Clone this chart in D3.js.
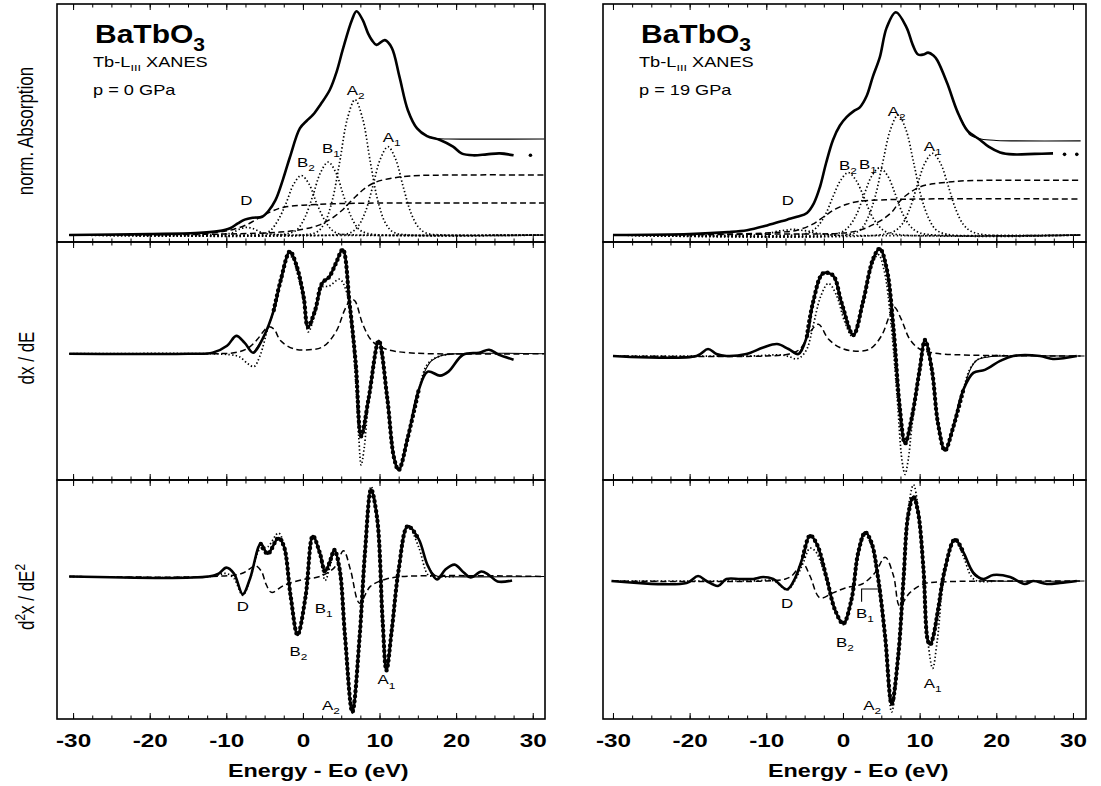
<!DOCTYPE html>
<html>
<head>
<meta charset="utf-8">
<script src="https://cdnjs.cloudflare.com/ajax/libs/d3/7.8.5/d3.min.js"></script>
<style>
body{margin:0;background:#fff;}
svg{display:block;font-family:"Liberation Sans",Arial,Helvetica,sans-serif;}
</style>
</head>
<body>
<svg id="chart" width="1101" height="786"></svg>
<script>
// tick positions (eV)
const energyTicks = [-30,-20,-10,0,10,20,30];
const minorTicks = [-30,-27.5,-25,-22.5,-20,-17.5,-15,-12.5,-10,-7.5,-5,-2.5,0,2.5,5,7.5,10,12.5,15,17.5,20,22.5,25,27.5,30];

// ---------- p = 0 GPa (left column) ----------
// norm. absorption: measured, fit, arctan steps, gaussian peaks
const absExpL = [[-30.5,0],[-20,0.01],[-14,0.02],[-11,0.04],[-9.5,0.07],[-8.5,0.12],[-7.6,0.16],[-6.5,0.18],[-5.3,0.19],[-4.5,0.25],[-3.6,0.36],[-2.6,0.58],[-1.7,0.81],[-0.4,1.11],[0.5,1.19],[1.3,1.25],[2.3,1.36],[3.5,1.51],[4.4,1.70],[5.2,1.93],[6.4,2.24],[7.0,2.33],[7.8,2.24],[8.5,2.10],[9.0,2.03],[9.6,1.98],[10.7,2.03],[11.6,1.95],[12.6,1.65],[13.7,1.30],[14.9,1.11],[16.2,1.03],[17.9,0.99],[19.6,0.92],[20.7,0.85],[22.2,0.83],[24,0.84],[25.7,0.85],[27.5,0.83]];
const absEndL = [[29.7,0.83]];
const absFitL = [[13.7,1.30],[14.9,1.11],[16.2,1.03],[17.5,1.005],[19,1.0],[31.5,1.0]];
const stepLoL = [[-30.5,0],[-15,0.01],[-11,0.03],[-9,0.06],[-7,0.12],[-5.5,0.19],[-4,0.25],[-2.5,0.29],[0,0.31],[4,0.325],[10,0.333],[31.5,0.333]];
const stepHiL = [[-30.5,0],[-10,0.01],[-3,0.03],[0,0.06],[2,0.10],[3.5,0.16],[5,0.25],[6.5,0.37],[8,0.48],[9.5,0.55],[11.5,0.59],[14,0.615],[20,0.625],[31.5,0.625]];
const peakDL = [[-30.5,0],[-12,0],[-10.3,0.01],[-9.3,0.02],[-8.3,0.06],[-7.3,0.08],[-6.3,0.06],[-5.3,0.02],[-4.3,0.01],[-2,0],[31.5,0]];
const peakB2L = [[-30.5,0],[-7.2,0],[-5.2,0.01],[-4.2,0.05],[-3.2,0.16],[-2.2,0.33],[-1.2,0.53],[-0.2,0.62],[0.8,0.53],[1.8,0.33],[2.8,0.16],[3.8,0.05],[4.8,0.01],[6.8,0],[31.5,0]];
const peakB1L = [[-30.5,0],[-3.7,0],[-1.7,0.02],[-0.7,0.06],[0.3,0.19],[1.3,0.41],[2.3,0.65],[3.3,0.76],[4.3,0.65],[5.3,0.41],[6.3,0.19],[7.3,0.06],[8.3,0.02],[10.3,0],[31.5,0]];
const peakA2L = [[-30.5,0],[-0.2,0],[1.8,0.03],[2.8,0.12],[3.8,0.35],[4.8,0.76],[5.8,1.21],[6.8,1.41],[7.8,1.21],[8.8,0.76],[9.8,0.35],[10.8,0.12],[11.8,0.03],[13.8,0],[31.5,0]];
const peakA1L = [[-30.5,0],[4.1,0],[6.1,0.02],[7.1,0.08],[8.1,0.23],[9.1,0.50],[10.1,0.79],[11.1,0.92],[12.1,0.79],[13.1,0.50],[14.1,0.23],[15.1,0.08],[16.1,0.02],[18.1,0],[31.5,0]];
const labTopL = [["D","",-7.4,0.36],["B","2",0.4,0.76],["B","1",3.65,0.91],["A","2",6.9,1.51],["A","1",11.6,1.02]];

// dx/dE
const dExpL = [[-30.5,0],[-15,0],[-11.8,0.01],[-9.9,0.08],[-8.7,0.18],[-7.6,0.11],[-6.5,0.01],[-5.2,0.16],[-3.8,0.44],[-2.9,0.74],[-1.7,1.03],[-0.8,0.88],[0.1,0.57],[0.65,0.27],[1.6,0.44],[2.5,0.71],[3.4,0.77],[4.3,0.91],[5.2,1.05],[6.1,0.50],[6.9,-0.10],[7.6,-0.83],[8.6,-0.44],[9.9,0.13],[11.0,-0.44],[11.9,-1.05],[12.5,-1.17],[13.7,-0.84],[15.1,-0.37],[16.3,-0.18],[17.9,-0.22],[19.0,-0.18],[20.9,-0.01],[23,0.01],[24.3,0.04],[25.6,-0.01],[27.5,-0.06]];
const dFitL = [[-6.5,0.01],[-5.2,0.16],[-3.8,0.44],[-2.9,0.74],[-1.7,1.03],[-0.8,0.88],[0.1,0.57],[0.65,0.27],[1.6,0.44],[2.5,0.71],[3.4,0.77],[4.3,0.91],[5.2,1.05],[6.1,0.50],[6.9,-0.10],[7.6,-0.83],[8.6,-0.44],[9.9,0.13],[11.0,-0.44],[11.9,-1.05],[12.5,-1.17],[13.7,-0.84],[15.1,-0.37],[15.9,-0.18],[16.8,-0.07],[18,-0.02],[20,0],[31.5,0]];
const dDotL = [[-30.5,0],[-12,0],[-9.5,-0.01],[-8.3,-0.03],[-7.2,-0.10],[-6.4,-0.13],[-5.6,-0.02],[-4.6,0.25],[-3.8,0.44],[-2.9,0.72],[-1.9,0.98],[-1.4,0.97],[-0.8,0.83],[0.1,0.52],[0.7,0.22],[1.6,0.41],[2.5,0.67],[3.4,0.68],[4.8,0.75],[5.7,0.62],[6.3,0.30],[6.9,-0.30],[7.3,-0.85],[7.6,-1.12],[8.0,-0.95],[8.6,-0.45],[9.8,0.09],[11.0,-0.44],[11.9,-1.05],[12.5,-1.17],[13.7,-0.84],[15.1,-0.37],[16.3,-0.10],[18,-0.02],[20,0]];
const dDashL = [[-30.5,0],[-12,0],[-9,0.01],[-7.3,0.05],[-6.0,0.14],[-5.0,0.24],[-4.5,0.27],[-3.8,0.25],[-2.9,0.13],[-1.2,0.05],[0.8,0.04],[2.6,0.07],[4.3,0.22],[5.5,0.45],[6.3,0.55],[6.8,0.53],[7.8,0.30],[9.0,0.13],[10.7,0.05],[13.8,0.01],[31.5,0]];

// d2x/dE2
const ddExpL = [[-30.5,0],[-12.3,0],[-11,0.03],[-10,0.09],[-9,0.03],[-7.85,-0.18],[-6.9,-0.02],[-5.5,0.33],[-4.6,0.23],[-3.2,0.39],[-2.5,0.31],[-1.6,-0.20],[-0.7,-0.59],[0.35,-0.20],[1.3,0.41],[2.2,0.24],[2.9,0.05],[3.6,0.17],[4.1,0.27],[4.8,0.07],[5.5,-0.61],[6.45,-1.37],[7.4,-0.61],[8.1,0.24],[8.9,0.88],[9.7,0.58],[10.4,-0.44],[10.9,-0.95],[11.6,-0.54],[12.5,0.07],[13.7,0.51],[15.1,0.38],[16.3,0.11],[17.5,-0.03],[18.6,0.07],[19.8,0.12],[21,0.04],[21.9,-0.01],[23.3,0.05],[24.2,0.02],[25.4,-0.05],[27.3,-0.04]];
const ddFitL = [[-12.3,0],[-11,0.03],[-10,0.09],[-9,0.03],[-7.85,-0.18],[-6.9,-0.02],[-5.5,0.33],[-4.6,0.23],[-3.2,0.39],[-2.5,0.31],[-1.6,-0.20],[-0.7,-0.59],[0.35,-0.20],[1.3,0.41],[2.2,0.24],[2.9,0.05],[3.6,0.17],[4.1,0.27],[4.8,0.07],[5.5,-0.61],[6.45,-1.37],[7.4,-0.61],[8.1,0.24],[8.9,0.88],[9.7,0.58],[10.4,-0.44],[10.9,-0.95],[11.6,-0.54],[12.5,0.07],[13.7,0.51],[15.1,0.38],[16.3,0.11],[17.3,0.01],[18.5,0],[31.5,0]];
const ddDotL = [[-30.5,0],[-12,0],[-10,0.03],[-9,-0.02],[-7.85,-0.19],[-6.9,-0.03],[-5.6,0.28],[-4.6,0.30],[-3.2,0.44],[-2.5,0.33],[-1.6,-0.20],[-0.7,-0.59],[0.35,-0.20],[1.3,0.41],[2.2,0.22],[2.9,-0.04],[3.6,0.12],[4.1,0.25],[4.8,0.07],[5.5,-0.61],[6.45,-1.38],[7.4,-0.61],[8.1,0.26],[8.9,0.91],[9.7,0.60],[10.4,-0.44],[10.9,-0.95],[11.6,-0.54],[12.5,0.07],[13.7,0.52],[15.1,0.30],[16.3,0.02],[17,0],[20,0]];
const ddDashL = [[-30.5,0],[-12,0],[-8,0.03],[-6.9,0.08],[-6.2,0.11],[-5.4,0.05],[-4.8,-0.08],[-4.1,-0.16],[-2.5,-0.09],[0,-0.03],[2.2,0],[4.1,0.09],[5.3,0.26],[6.2,0.07],[7.4,-0.27],[8.8,-0.10],[10.7,-0.03],[13,0],[31.5,0]];
const labBotL = [["D","",-7.85,-0.30],["B","1",2.7,-0.32],["B","2",-0.6,-0.75],["A","2",3.65,-1.30],["A","1",10.9,-1.04]];

// ---------- p = 19 GPa (right column) ----------
const absExpR = [[-30,0],[-20,0.01],[-15,0.03],[-12.5,0.05],[-9.9,0.10],[-7.3,0.16],[-6,0.19],[-4.7,0.23],[-3.8,0.33],[-3.0,0.50],[-2.2,0.75],[-1.3,0.99],[-0.4,1.14],[0.5,1.23],[1.4,1.29],[2.2,1.33],[3.1,1.45],[3.9,1.65],[4.8,1.85],[5.7,2.16],[6.9,2.32],[8.3,2.16],[9.1,1.98],[9.8,1.88],[10.5,1.88],[11.1,1.90],[11.8,1.87],[12.3,1.82],[13.6,1.58],[14.9,1.29],[16.2,1.09],[17.9,0.99],[19,0.92],[20.5,0.86],[22.2,0.84],[25,0.845],[27.4,0.85]];
const absEndR = [[28.9,0.84],[30.5,0.84]];
const absFitR = [[14.9,1.29],[16.2,1.09],[16.6,1.04],[18,1.0],[20,0.985],[31,0.98]];
const stepLoR = [[-30,0],[-14,0.01],[-8,0.03],[-6,0.05],[-4,0.11],[-2.5,0.19],[-1,0.27],[0.5,0.32],[2,0.35],[5,0.365],[10,0.375],[31,0.375]];
const stepHiR = [[-30,0],[-8,0.01],[0,0.02],[2.2,0.05],[4,0.11],[5.5,0.18],[6.5,0.25],[7.5,0.36],[8.7,0.44],[10,0.50],[11.5,0.53],[13.6,0.55],[16,0.565],[31,0.57]];
const peakDR = [[-30,0],[-11.5,0],[-10.5,0.01],[-9.5,0.02],[-8.5,0.04],[-7.5,0.05],[-6.5,0.06],[-5.5,0.05],[-4.5,0.04],[-3.5,0.02],[-2.5,0.01],[-1.5,0],[31,0]];
const peakB2R = [[-30,0],[-6.3,0],[-4.3,0.03],[-3.3,0.09],[-2.3,0.21],[-1.3,0.40],[-0.3,0.57],[0.7,0.65],[1.7,0.57],[2.7,0.40],[3.7,0.21],[4.7,0.09],[5.7,0.03],[7.7,0],[31,0]];
const peakB1R = [[-30,0],[-2.2,0],[-0.2,0.03],[0.8,0.09],[1.8,0.22],[2.8,0.43],[3.8,0.62],[4.8,0.70],[5.8,0.62],[6.8,0.43],[7.8,0.22],[8.8,0.09],[9.8,0.03],[11.8,0],[31,0]];
const peakA2R = [[-30,0],[0.2,0],[2.2,0.05],[3.2,0.17],[4.2,0.40],[5.2,0.76],[6.2,1.10],[7.2,1.25],[8.2,1.10],[9.2,0.76],[10.2,0.40],[11.2,0.17],[12.2,0.05],[14.2,0],[31,0]];
const peakA1R = [[-30,0],[4.7,0],[6.7,0.04],[7.7,0.11],[8.7,0.27],[9.7,0.52],[10.7,0.75],[11.7,0.85],[12.7,0.75],[13.7,0.52],[14.7,0.27],[15.7,0.11],[16.7,0.04],[18.7,0],[31,0]];
const labTopR = [["D","",-7.2,0.36],["B","2",0.65,0.73],["B","1",3.25,0.74],["A","2",7.0,1.29],["A","1",11.7,0.93]];

const dExpR = [[-30,0],[-19.1,0],[-17.6,0.07],[-16.5,0.02],[-15.2,0],[-12.6,0.02],[-10.4,0.085],[-8.6,0.12],[-7.1,0.07],[-5.8,0.02],[-4.7,0.20],[-3.9,0.54],[-2.6,0.83],[-1.3,0.81],[-0.2,0.54],[1.35,0.21],[2.6,0.54],[3.95,0.98],[4.8,1.08],[5.7,0.88],[6.6,0.27],[7.4,-0.51],[8.1,-0.88],[9.0,-0.61],[10.0,-0.14],[10.7,0.16],[11.6,-0.14],[12.4,-0.68],[13.3,-0.95],[14.4,-0.71],[15.7,-0.34],[17.0,-0.17],[18.5,-0.14],[20.5,-0.05],[22.2,0],[25.7,0],[27.4,-0.03],[30.5,0]];
const dFitR = [[-5.8,0.02],[-4.7,0.20],[-3.9,0.54],[-2.6,0.83],[-1.3,0.81],[-0.2,0.54],[1.35,0.21],[2.6,0.54],[3.95,0.98],[4.8,1.08],[5.7,0.88],[6.6,0.27],[7.4,-0.51],[8.1,-0.88],[9.0,-0.61],[10.0,-0.14],[10.7,0.16],[11.6,-0.14],[12.4,-0.68],[13.3,-0.95],[14.4,-0.71],[15.7,-0.34],[16.7,-0.12],[17.5,-0.04],[19,-0.01],[21,0],[31.5,0]];
const dDotR = [[-30,0],[-12,0],[-8,0.01],[-6.9,-0.01],[-6.2,-0.03],[-5.5,-0.01],[-4.7,0.07],[-3.9,0.30],[-2.9,0.60],[-1.9,0.73],[-0.9,0.62],[0.2,0.35],[1.2,0.20],[2.2,0.40],[3.4,0.82],[4.6,1.02],[5.4,0.85],[6.3,0.30],[7.1,-0.45],[7.7,-1.05],[8.1,-1.19],[8.5,-1.05],[9.0,-0.70],[10.0,-0.10],[10.7,0.16],[11.6,-0.14],[12.4,-0.68],[13.3,-0.95],[14.4,-0.71],[15.7,-0.34],[16.5,-0.14],[17.5,-0.04],[19,0],[22,0]];
const dDashR = [[-30,0],[-10,0],[-7,0.02],[-5.6,0.07],[-4.3,0.24],[-3.2,0.32],[-1.9,0.17],[-0.4,0.085],[1.35,0.05],[3.5,0.07],[5.0,0.20],[6.1,0.41],[6.7,0.49],[7.6,0.37],[8.7,0.17],[10,0.07],[11.8,0.03],[15.7,0.01],[31,0]];

const ddExpR = [[-30.2,0],[-20.4,-0.02],[-18.9,0.05],[-17.8,0],[-16.3,-0.05],[-15.2,0.02],[-13.4,0.02],[-11.7,0.02],[-10.4,0.04],[-9.1,0.02],[-7.3,-0.085],[-6.3,0.02],[-5.2,0.25],[-4.3,0.46],[-3.4,0.37],[-2.1,0.02],[-1.04,-0.29],[0.04,-0.43],[1.1,-0.19],[2.0,0.29],[2.9,0.49],[3.7,0.39],[4.6,0.02],[5.5,-0.56],[6.35,-1.24],[7.2,-0.76],[7.9,0.02],[8.5,0.66],[9.2,0.85],[9.8,0.69],[10.5,0.12],[11.1,-0.61],[11.4,-0.64],[11.8,-0.55],[12.4,-0.29],[13.3,0.12],[14.6,0.42],[15.7,0.29],[17.0,0.085],[18.3,0.02],[19.6,0.06],[21.8,0.04],[23.7,-0.03],[24.8,0],[26.6,-0.03],[28.3,-0.02],[30.5,0]];
const ddFitR = [[-12,0.02],[-10.4,0.04],[-9.1,0.02],[-7.3,-0.085],[-6.3,0.02],[-5.2,0.25],[-4.3,0.46],[-3.4,0.37],[-2.1,0.02],[-1.04,-0.29],[0.04,-0.43],[1.1,-0.19],[2.0,0.29],[2.9,0.49],[3.7,0.39],[4.6,0.02],[5.5,-0.56],[6.35,-1.24],[7.2,-0.76],[7.9,0.02],[8.5,0.66],[9.2,0.85],[9.8,0.69],[10.5,0.12],[11.1,-0.61],[11.4,-0.64],[11.8,-0.55],[12.4,-0.29],[13.3,0.12],[14.6,0.42],[15.7,0.29],[17.0,0.07],[18.3,0.01],[20,0],[31.5,0]];
const ddDotR = [[-30,0],[-12,0],[-9,0],[-7.3,-0.09],[-6.3,0.0],[-5.2,0.18],[-4.3,0.33],[-3.6,0.30],[-2.1,0.0],[-1.04,-0.29],[0.04,-0.44],[1.1,-0.19],[2.0,0.27],[2.9,0.46],[3.7,0.36],[4.6,0.0],[5.5,-0.60],[6.35,-1.32],[7.2,-0.80],[7.9,0.02],[8.5,0.72],[9.2,0.97],[9.8,0.74],[10.5,0.10],[11.1,-0.62],[11.7,-0.88],[12.3,-0.60],[13.3,0.10],[14.6,0.41],[15.7,0.25],[16.7,0.05],[17.5,0],[20,0]];
const ddDashR = [[-30,0],[-10,0],[-7.5,0.02],[-6.7,0.05],[-5.2,0.17],[-4.3,0.05],[-3.0,-0.17],[-1.3,-0.12],[0.3,-0.07],[2.5,-0.03],[4.2,0.085],[5.5,0.24],[6.6,0.05],[7.4,-0.25],[8.7,-0.12],[10.5,-0.03],[12.6,-0.01],[31,0]];
const labBotR = [["D","",-7.3,-0.22],["B","2",0.25,-0.61],["B","1",2.85,-0.32],["A","2",3.8,-1.25],["A","1",11.7,-1.03]];
const b1MarkR = [[2.43,-0.21],[2.43,-0.08],[5.04,-0.08]];

// ---------- layout ----------
var svg = d3.select("#chart");
svg.append("rect").attr("width",1101).attr("height",786).attr("fill","#fff");

var rows = [[4,242],[242,480],[480,719]];

var cols = [
	{range:[57,545], domain:[-32.1,31.6], pressure:"p = 0 GPa",
	 top:{exp:absExpL, ends:absEndL, fit:absFitL, steps:[stepLoL,stepHiL], peaks:[peakDL,peakB2L,peakB1L,peakA2L,peakA1L], labels:labTopL},
	 mid:{exp:dExpL, fit:dFitL, dot:dDotL, dash:dDashL, dom:[-1.271,1.125], dots:[-4.6,15.2]},
	 bot:{exp:ddExpL, fit:ddFitL, dot:ddDotL, dash:ddDashL, dom:[-1.441,0.976], dots:[-6.5,15.5], labels:labBotL}},
	{range:[603,1086], domain:[-31.3,31.7], pressure:"p = 19 GPa",
	 top:{exp:absExpR, ends:absEndR, fit:absFitR, steps:[stepLoR,stepHiR], peaks:[peakDR,peakB2R,peakB1R,peakA2R,peakA1R], labels:labTopR},
	 mid:{exp:dExpR, fit:dFitR, dot:dDotR, dash:dDashR, dom:[-1.247,1.146], dots:[-4.7,16]},
	 bot:{exp:ddExpR, fit:ddFitR, dot:ddDotR, dash:ddDashR, dom:[-1.39,1.017], dots:[-6,16], labels:labBotR, mark:b1MarkR}}
];
var topDom = [-0.073, 2.406];

// text with sub/superscripts, stretched sideways like the scanned original
function richText(g, x, y, parts, size, opts){
	opts = opts || {};
	var t = g.append("text")
		.attr("transform", opts.transform || ("translate(" + x + "," + y + ") scale(" + (opts.sx || 1.3) + ",1)"))
		.attr("text-anchor", opts.anchor || "start")
		.attr("font-size", size)
		.attr("font-weight", opts.weight || "normal")
		.attr("fill", "#000");
	var cur = 0;
	parts.forEach(function(p){
		if(!p[0]) return;
		var off = p[1] == 1 ? size*0.32 : (p[1] == -1 ? -size*0.42 : 0);
		var s = t.append("tspan").text(p[0]).attr("dy", off - cur);
		if(p[1]) s.attr("font-size", size*0.7);
		cur = off;
	});
	return t;
}

function drawCurve(g, data, x, y, style){
	var line = d3.line().x(function(d){return x(d[0])}).y(function(d){return y(d[1])})
		.curve(d3.curveCatmullRom.alpha(0.5));
	var p = g.append("path").datum(data).attr("d", line)
		.attr("fill","none").attr("stroke","#000")
		.attr("stroke-linejoin","round");
	if(style == "exp") p.attr("stroke-width",2.6);
	if(style == "fit") p.attr("stroke-width",1.1);
	if(style == "dot") p.attr("stroke-width",1.7).attr("stroke-dasharray","1.4,2.3");
	if(style == "dash") p.attr("stroke-width",1.5).attr("stroke-dasharray","6,3.5");
	if(style == "beads") p.attr("stroke-width",4.4).attr("stroke-linecap","round").attr("stroke-dasharray","0,5");
	return p;
}

function peakLabels(g, labels, x, y){
	labels.forEach(function(l){
		richText(g, x(l[2]), y(l[3]) + 5, [[l[0],0],[l[1],1]], 13, {anchor:"middle"});
	});
}

function edgeTicks(g, x, yt, yb){
	[[minorTicks,3.5],[energyTicks,6]].forEach(function(t){
		g.append("g").attr("transform","translate(0," + yb + ")")
			.call(d3.axisBottom(x).tickValues(t[0]).tickSize(-t[1]).tickFormat(""))
			.call(function(s){s.select(".domain").remove(); s.selectAll("line").attr("stroke-width",1);});
		g.append("g").attr("transform","translate(0," + yt + ")")
			.call(d3.axisTop(x).tickValues(t[0]).tickSize(-t[1]).tickFormat(""))
			.call(function(s){s.select(".domain").remove(); s.selectAll("line").attr("stroke-width",1);});
	});
}

cols.forEach(function(c, ci){
	var x = d3.scaleLinear().domain(c.domain).range(c.range);
	var g = svg.append("g");

	// ---- top panel: normalised absorption
	var yT = d3.scaleLinear().domain(topDom).range([rows[0][1], rows[0][0]]);
	c.top.steps.forEach(function(s){ drawCurve(g, s, x, yT, "dash"); });
	c.top.peaks.forEach(function(s){ drawCurve(g, s, x, yT, "dot"); });
	drawCurve(g, c.top.fit, x, yT, "fit");
	drawCurve(g, c.top.exp, x, yT, "exp");
	g.selectAll(null).data(c.top.ends).enter().append("circle")
		.attr("cx", function(d){return x(d[0])}).attr("cy", function(d){return yT(d[1])})
		.attr("r", 1.8).attr("fill","#000");
	peakLabels(g, c.top.labels, x, yT);

	// ---- middle and bottom panels: derivatives
	[c.mid, c.bot].forEach(function(p, pi){
		var r = rows[pi + 1];
		var y = d3.scaleLinear().domain(p.dom).range([r[1], r[0]]);
		drawCurve(g, p.dash, x, y, "dash");
		drawCurve(g, p.dot, x, y, "dot");
		drawCurve(g, p.fit, x, y, "fit");
		drawCurve(g, p.exp, x, y, "exp");
		drawCurve(g, p.fit.filter(function(d){return d[0] >= p.dots[0] && d[0] <= p.dots[1]}), x, y, "beads");
		if(p.labels) peakLabels(g, p.labels, x, y);
		if(p.mark){
			g.append("path").datum(p.mark)
				.attr("d", d3.line().x(function(d){return x(d[0])}).y(function(d){return y(d[1])}))
				.attr("fill","none").attr("stroke","#000").attr("stroke-width",1.1);
		}
	});

	// frames and ticks
	rows.forEach(function(r){
		g.append("rect").attr("x", c.range[0]).attr("y", r[0])
			.attr("width", c.range[1] - c.range[0]).attr("height", r[1] - r[0])
			.attr("fill","none").attr("stroke","#000").attr("stroke-width",1.6);
		edgeTicks(g, x, r[0], r[1]);
	});

	// tick labels (plain hyphen as in the original)
	g.append("g").attr("transform","translate(0," + rows[2][1] + ")")
		.call(d3.axisBottom(x).tickValues(energyTicks).tickSize(0).tickPadding(15).tickFormat(function(d){return String(d)}))
		.call(function(s){
			s.select(".domain").remove();
			s.selectAll("text").attr("font-size",18).attr("font-weight","bold")
				.attr("font-family","'Liberation Sans',Arial,sans-serif").attr("fill","#000")
				.attr("transform","scale(1.35,1)");
		});
	richText(g, x(2), 777, [["Energy - Eo (eV)",0]], 18, {anchor:"middle", weight:"bold"});

	// titles
	var tx = c.range[0] + 36;
	richText(g, tx + 2, 43, [["BaTbO",0],["3",1]], 25, {weight:"bold", sx:1.2});
	richText(g, tx, 67, [["Tb-L",0],["III",1],[" XANES",0]], 14);
	richText(g, tx, 95, [[c.pressure,0]], 14);
});

// y axis titles (left column only)
richText(svg, 0, 0, [["norm. Absorption",0]], 17, {anchor:"middle", transform:"translate(33,131) rotate(-90) scale(1,1.25)"});
richText(svg, 0, 0, [["dx / dE",0]], 17, {anchor:"middle", transform:"translate(34,358) rotate(-90) scale(1,1.25)"});
richText(svg, 0, 0, [["d",0],["2",-1],["x / dE",0],["2",-1]], 17, {anchor:"middle", transform:"translate(34,597) rotate(-90) scale(1,1.25)"});
</script>
</body>
</html>
